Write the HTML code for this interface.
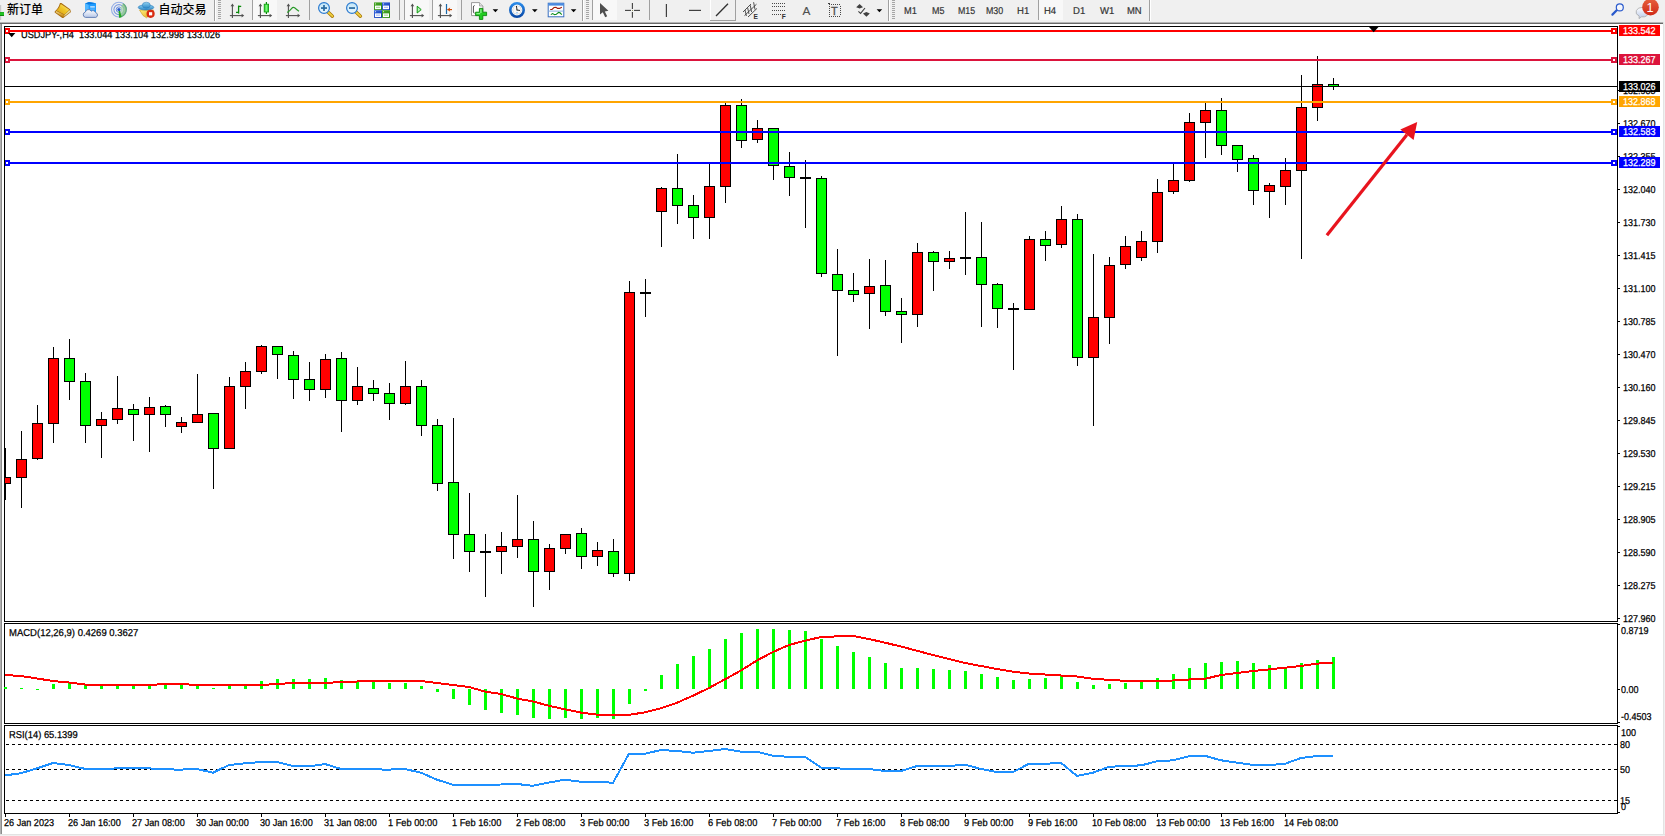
<!DOCTYPE html>
<html><head><meta charset="utf-8"><title>USDJPY-,H4</title>
<style>
html,body{margin:0;padding:0;}
body{width:1665px;height:836px;overflow:hidden;background:#fff;position:relative;font-family:"Liberation Sans","Noto Sans CJK SC",sans-serif;}
#tb{position:absolute;left:0;top:0;width:1665px;height:22px;background:#f0f0f0;}
#tbl1{position:absolute;left:0;top:22px;width:1664px;height:1px;background:#b4b4b4;}
#tbl2{position:absolute;left:0;top:23px;width:1664px;height:1px;background:#696969;}
#le{position:absolute;left:0;top:24px;width:2px;height:810px;background:linear-gradient(90deg,#b0b0b0 50%,#8c8c8c 50%);}
#re{position:absolute;left:1663px;top:22px;width:2px;height:814px;background:linear-gradient(90deg,#e3e3e3 50%,#f0f0f0 50%);}
#be{position:absolute;left:0;top:834px;width:1665px;height:2px;background:linear-gradient(180deg,#e3e3e3 50%,#f0f0f0 50%);}
#chart{position:absolute;left:0;top:0;}
.t{position:absolute;font-size:10px;line-height:10px;height:10px;color:#000;white-space:nowrap;text-rendering:geometricPrecision;transform:scaleX(0.9);transform-origin:0 0;-webkit-text-stroke:0.25px #000;}
.pl{left:1623px;}
.bx{position:absolute;left:1619px;width:41px;height:11px;color:#fff;}
.bx span{position:absolute;left:4px;top:2px;font-size:10px;line-height:10px;white-space:nowrap;text-rendering:geometricPrecision;transform:scaleX(0.9);transform-origin:0 0;-webkit-text-stroke:0.25px #fff;}
.tf{position:absolute;top:7px;font-size:10px;line-height:10px;color:#333;white-space:nowrap;text-rendering:geometricPrecision;transform:scaleX(0.88);transform-origin:0 0;-webkit-text-stroke:0.2px #333;}
.cj{position:absolute;top:2px;font-size:12px;line-height:14px;color:#000;font-weight:500;white-space:nowrap;font-family:"Noto Sans CJK SC","WenQuanYi Zen Hei",sans-serif;}
.sep{position:absolute;top:0;width:1px;height:21px;background:#a0a0a0;}
.sepw{position:absolute;top:0;width:1px;height:21px;background:#fff;}
.grip{position:absolute;top:1px;width:3px;height:19px;background:repeating-linear-gradient(180deg,#a8a8a8 0,#a8a8a8 1px,transparent 1px,transparent 2px);}
.pressed{position:absolute;top:0;height:20px;background:#f8f8f8;border-left:1px solid #a0a0a0;}
.ic{position:absolute;overflow:visible;}
</style></head><body>
<div id="tb"></div><div id="tbl1"></div><div id="tbl2"></div><div id="le"></div><div id="re"></div><div id="be"></div>

<svg id="tbsvg" style="position:absolute;left:0;top:0" width="1665" height="24" viewBox="0 0 1665 24">
<defs>
<linearGradient id="gold" x1="0" y1="0" x2="1" y2="1"><stop offset="0" stop-color="#fbe36a"/><stop offset="0.5" stop-color="#e9b91c"/><stop offset="1" stop-color="#b87a10"/></linearGradient>
<linearGradient id="grn" x1="0" y1="0" x2="1" y2="0"><stop offset="0" stop-color="#1fc01f"/><stop offset="0.5" stop-color="#7dff7d"/><stop offset="1" stop-color="#1fc01f"/></linearGradient>
<linearGradient id="lens" x1="0" y1="0" x2="0" y2="1"><stop offset="0" stop-color="#bfe4f7"/><stop offset="1" stop-color="#eef8fd"/></linearGradient>
<linearGradient id="badge" x1="0" y1="0" x2="0" y2="1"><stop offset="0" stop-color="#e7603c"/><stop offset="1" stop-color="#cf2a18"/></linearGradient>
<linearGradient id="sig" x1="0" y1="0" x2="1" y2="1"><stop offset="0" stop-color="#3a6ad8"/><stop offset="1" stop-color="#38b038"/></linearGradient>
<linearGradient id="hat" x1="0" y1="0" x2="0" y2="1"><stop offset="0" stop-color="#8fd0f0"/><stop offset="1" stop-color="#2a88c8"/></linearGradient>
<linearGradient id="face" x1="0" y1="0" x2="1" y2="1"><stop offset="0" stop-color="#fff07a"/><stop offset="1" stop-color="#e0a820"/></linearGradient>
<linearGradient id="clk" x1="0" y1="0" x2="0" y2="1"><stop offset="0" stop-color="#2a8ae8"/><stop offset="1" stop-color="#0a4aa8"/></linearGradient>
<linearGradient id="tg" x1="0" y1="0" x2="1" y2="1"><stop offset="0" stop-color="#4aa828"/><stop offset="1" stop-color="#2a8a10"/></linearGradient>
<linearGradient id="tbl" x1="0" y1="0" x2="1" y2="1"><stop offset="0" stop-color="#3a6ae0"/><stop offset="1" stop-color="#1038b0"/></linearGradient>
<linearGradient id="cloud" x1="0" y1="0" x2="0" y2="1"><stop offset="0" stop-color="#ffffff"/><stop offset="1" stop-color="#b8c8e8"/></linearGradient>
<linearGradient id="gold2" x1="1" y1="0" x2="0" y2="1"><stop offset="0" stop-color="#fff8a8"/><stop offset="0.45" stop-color="#f0c82a"/><stop offset="1" stop-color="#d89c10"/></linearGradient>
<linearGradient id="spine" x1="0" y1="0" x2="0.4" y2="1"><stop offset="0" stop-color="#f4dc8a"/><stop offset="1" stop-color="#c88c14"/></linearGradient>
<radialGradient id="sigg" cx="118.9" cy="9.6" r="8" gradientUnits="userSpaceOnUse"><stop offset="0" stop-color="#e8f4e8" stop-opacity="0.6"/><stop offset="0.7" stop-color="#8ac88a" stop-opacity="0.75"/><stop offset="1" stop-color="#3a9a4a" stop-opacity="0.85"/></radialGradient>
</defs>
<rect x="0" y="5" width="1.2" height="15" fill="#c8c8c8"/><rect x="0" y="12.2" width="4" height="3.8" fill="#22c422"/><rect x="0" y="15.2" width="4" height="0.8" fill="#0a7a0a"/><rect x="0" y="12.2" width="4" height="0.6" fill="#0a9a0a"/>
<path d="M60,3 L61.4,3 L70.1,9.2 L71,11.9 L63.3,17.9 L62.3,17.9 L54.7,12.5 L54.7,11.4 Q58.4,8.6 60,3 z" fill="#a86c10"/>
<polygon points="69.5,10 70.4,11.8 63.4,17.1 64.7,14.8" fill="#e4dca0"/>
<path d="M60.8,3.9 L69.3,9.7 L64.6,14.6 L56.5,10.6 Q59.5,8 60.8,3.9 z" fill="url(#gold2)"/>
<polygon points="56.2,10.9 64.5,15 63,17.1 55.5,12.2" fill="url(#spine)"/>
<polygon points="85.2,3.6 89,2 96,3.2 96,12 85.2,12" fill="#1e9cff"/><polygon points="85.2,3.6 88.6,4.6 88.6,12 85.2,12" fill="#52b8ff"/><polygon points="85.2,3.6 89,2 96,3.2 88.6,4.6" fill="#0a7ae0"/><rect x="90.2" y="6.3" width="4.6" height="1.2" fill="#e8f4ff"/><rect x="90.2" y="8.6" width="4.6" height="0.9" fill="#7cc4ff"/>
<path d="M85.6,17.4 a2.7,2.7 0 0 1 -0.3,-5.3 a3.2,3.2 0 0 1 5.9,-0.9 a2.8,2.8 0 0 1 4.4,1.4 a2.5,2.5 0 0 1 0.2,4.8 z" fill="url(#cloud)" stroke="#5a78b0" stroke-width="0.9"/>
<g fill="none" stroke="#4a78dc"><circle cx="118.9" cy="9.6" r="7.4" stroke-width="1.1" opacity="0.55"/><circle cx="118.9" cy="9.6" r="5" stroke-width="1.1" opacity="0.7"/><circle cx="118.9" cy="9.6" r="2.7" stroke-width="1" opacity="0.8"/></g>
<path d="M118.9,9.6 L123.4,3.2 A7.8,7.8 0 0 1 119.3,17.4 z" fill="url(#sigg)"/>
<polygon points="118.5,9.6 119.1,17.8 121.6,17.3 119.7,9.6" fill="#22a822"/><circle cx="118.9" cy="9.5" r="1.6" fill="#2a5ad0"/>
<polygon points="139.5,10 153.5,10 151,14 146.5,17.8 143,15.5" fill="url(#face)" stroke="#c89818" stroke-width="0.6"/>
<ellipse cx="146" cy="7.4" rx="7.8" ry="2.6" fill="url(#hat)" stroke="#2a78b8" stroke-width="0.6"/><ellipse cx="146.3" cy="5.2" rx="4" ry="3" fill="url(#hat)" stroke="#2a78b8" stroke-width="0.5"/>
<circle cx="150.6" cy="13.8" r="4.1" fill="#d82a10"/><rect x="149" y="12.2" width="3.2" height="3.2" fill="#fff"/>
<rect x="214" y="0" width="1" height="21" fill="#a0a0a0" shape-rendering="crispEdges"/>
<rect x="215" y="0" width="1" height="21" fill="#fff" shape-rendering="crispEdges"/>
<rect x="218" y="0" width="3" height="1" fill="#a6a6a6" shape-rendering="crispEdges"/>
<rect x="218" y="2" width="3" height="1" fill="#a6a6a6" shape-rendering="crispEdges"/>
<rect x="218" y="4" width="3" height="1" fill="#a6a6a6" shape-rendering="crispEdges"/>
<rect x="218" y="6" width="3" height="1" fill="#a6a6a6" shape-rendering="crispEdges"/>
<rect x="218" y="8" width="3" height="1" fill="#a6a6a6" shape-rendering="crispEdges"/>
<rect x="218" y="10" width="3" height="1" fill="#a6a6a6" shape-rendering="crispEdges"/>
<rect x="218" y="12" width="3" height="1" fill="#a6a6a6" shape-rendering="crispEdges"/>
<rect x="218" y="14" width="3" height="1" fill="#a6a6a6" shape-rendering="crispEdges"/>
<rect x="218" y="16" width="3" height="1" fill="#a6a6a6" shape-rendering="crispEdges"/>
<rect x="218" y="18" width="3" height="1" fill="#a6a6a6" shape-rendering="crispEdges"/>
<g stroke="#505050" stroke-width="1.1" fill="#505050"><line x1="232.4" y1="5" x2="232.4" y2="18"/><line x1="229.9" y1="15.6" x2="242.4" y2="15.6"/><polygon points="232.4,3.6 230.6,6.2 234.20000000000002,6.2" stroke="none"/><polygon points="244.20000000000002,15.6 241.6,13.8 241.6,17.4" stroke="none"/></g>
<g stroke="#0a8a0a" stroke-width="1.3" fill="none"><line x1="238.6" y1="5.6" x2="238.6" y2="13.6"/><line x1="236" y1="12.4" x2="238.6" y2="12.4"/><line x1="238.6" y1="6.4" x2="241.2" y2="6.4"/></g>
<rect x="252" y="0" width="1" height="20" fill="#a0a0a0" shape-rendering="crispEdges"/>
<rect x="253" y="0" width="24" height="20" fill="#f8f8f8" shape-rendering="crispEdges"/>
<g stroke="#505050" stroke-width="1.1" fill="#505050"><line x1="260.4" y1="5" x2="260.4" y2="18"/><line x1="257.9" y1="15.6" x2="270.4" y2="15.6"/><polygon points="260.4,3.6 258.59999999999997,6.2 262.2,6.2" stroke="none"/><polygon points="272.2,15.6 269.59999999999997,13.8 269.59999999999997,17.4" stroke="none"/></g>
<line x1="266.4" y1="2" x2="266.4" y2="14" stroke="#0a8a0a" stroke-width="1.2"/><rect x="264.2" y="4.2" width="4.4" height="7.8" fill="url(#grn)" stroke="#0a9a0a" stroke-width="0.8"/>
<g stroke="#505050" stroke-width="1.1" fill="#505050"><line x1="288.4" y1="5" x2="288.4" y2="18"/><line x1="285.9" y1="15.6" x2="298.4" y2="15.6"/><polygon points="288.4,3.6 286.59999999999997,6.2 290.2,6.2" stroke="none"/><polygon points="300.2,15.6 297.59999999999997,13.8 297.59999999999997,17.4" stroke="none"/></g>
<path d="M287.2,12.6 Q290,10.5 291.5,8.6 Q293,6.8 294.6,7.8 Q296.5,9.4 299,11.2" fill="none" stroke="#2a9a2a" stroke-width="1.2"/>
<rect x="309" y="0" width="1" height="20" fill="#a0a0a0" shape-rendering="crispEdges"/>
<line x1="328" y1="12" x2="332.4" y2="16.2" stroke="#a87808" stroke-width="3.4" stroke-linecap="round"/><line x1="328" y1="12" x2="332.4" y2="16.2" stroke="#f0d040" stroke-width="1.8" stroke-linecap="round"/>
<circle cx="324" cy="8" r="5.4" fill="url(#lens)" stroke="#2a7ad0" stroke-width="1.2"/>
<rect x="321" y="7.2" width="6" height="1.7" fill="#2a6aa0"/>
<rect x="323.15" y="5" width="1.7" height="6" fill="#2a6aa0"/>
<line x1="356" y1="12" x2="360.4" y2="16.2" stroke="#a87808" stroke-width="3.4" stroke-linecap="round"/><line x1="356" y1="12" x2="360.4" y2="16.2" stroke="#f0d040" stroke-width="1.8" stroke-linecap="round"/>
<circle cx="352" cy="8" r="5.4" fill="url(#lens)" stroke="#2a7ad0" stroke-width="1.2"/>
<rect x="349" y="7.2" width="6" height="1.7" fill="#2a6aa0"/>
<rect x="374" y="2.4" width="8" height="7.7" fill="url(#tg)"/><rect x="375" y="5.6" width="6" height="3.6" fill="#fff"/><rect x="376" y="6.800000000000001" width="4" height="1" fill="#9ad08a"/><rect x="375" y="3.4" width="1" height="1" fill="#fff" opacity="0.8"/>
<rect x="382" y="2.4" width="8" height="7.7" fill="url(#tbl)"/><rect x="383" y="5.6" width="6" height="3.6" fill="#fff"/><rect x="384" y="6.800000000000001" width="4" height="1" fill="#9ab0f0"/><rect x="383" y="3.4" width="1" height="1" fill="#fff" opacity="0.8"/>
<rect x="374" y="10.2" width="8" height="7.7" fill="url(#tbl)"/><rect x="375" y="13.399999999999999" width="6" height="3.6" fill="#fff"/><rect x="376" y="14.6" width="4" height="1" fill="#9ab0f0"/><rect x="375" y="11.2" width="1" height="1" fill="#fff" opacity="0.8"/>
<rect x="382" y="10.2" width="8" height="7.7" fill="url(#tg)"/><rect x="383" y="13.399999999999999" width="6" height="3.6" fill="#fff"/><rect x="384" y="14.6" width="4" height="1" fill="#9ad08a"/><rect x="383" y="11.2" width="1" height="1" fill="#fff" opacity="0.8"/>
<rect x="399" y="0" width="1" height="20" fill="#a0a0a0" shape-rendering="crispEdges"/>
<rect x="404" y="0" width="1" height="20" fill="#a0a0a0" shape-rendering="crispEdges"/>
<rect x="405" y="0" width="24" height="20" fill="#f8f8f8" shape-rendering="crispEdges"/>
<g stroke="#505050" stroke-width="1.1" fill="#505050"><line x1="412.4" y1="5" x2="412.4" y2="18"/><line x1="409.9" y1="15.6" x2="422.4" y2="15.6"/><polygon points="412.4,3.6 410.59999999999997,6.2 414.2,6.2" stroke="none"/><polygon points="424.2,15.6 421.59999999999997,13.8 421.59999999999997,17.4" stroke="none"/></g>
<polygon points="417.2,6.2 421.2,9.6 417.2,13" fill="#b8f0b8" stroke="#0a9a0a" stroke-width="1"/>
<rect x="432" y="0" width="1" height="20" fill="#a0a0a0" shape-rendering="crispEdges"/>
<rect x="433" y="0" width="24" height="20" fill="#f8f8f8" shape-rendering="crispEdges"/>
<g stroke="#505050" stroke-width="1.1" fill="#505050"><line x1="440.4" y1="5" x2="440.4" y2="18"/><line x1="437.9" y1="15.6" x2="450.4" y2="15.6"/><polygon points="440.4,3.6 438.59999999999997,6.2 442.2,6.2" stroke="none"/><polygon points="452.2,15.6 449.59999999999997,13.8 449.59999999999997,17.4" stroke="none"/></g>
<line x1="446.5" y1="4" x2="446.5" y2="14" stroke="#1a6aaa" stroke-width="1.2"/><line x1="447.5" y1="9.6" x2="452" y2="9.6" stroke="#d04a00" stroke-width="1.2"/><polygon points="447.2,9.6 450.2,7.4 449.6,9.6 450.2,11.8" fill="#d04a00"/>
<rect x="461" y="0" width="1" height="20" fill="#a0a0a0" shape-rendering="crispEdges"/>
<path d="M471.5,2.6 h8 l3.4,3.4 v9.6 h-11.4 z" fill="#fff" stroke="#909090" stroke-width="0.9"/><path d="M479.5,2.6 v3.4 h3.4" fill="#e0e0e0" stroke="#909090" stroke-width="0.7"/><path d="M474.6,5.5 q-1.2,0.2 -1.2,1.5 v5 q0,1 1.2,1.2" fill="none" stroke="#404040" stroke-width="0.9"/>
<path d="M479.4,8.4 h3.4 v3.8 h3.8 v3.4 h-3.8 v3.8 h-3.4 v-3.8 h-3.8 v-3.4 h3.8 z" fill="#22cc22" stroke="#0a8a0a" stroke-width="0.9"/><path d="M480.2,9.2 h1.4 v3.8 h-1.4 z M476.4,13 h3.8 v1.2 h-3.8z" fill="#8af08a"/>
<polygon points="492.6,9.2 498.20000000000005,9.2 495.40000000000003,12.2" fill="#000"/>
<circle cx="517" cy="10" r="6.7" fill="#f8f8f8" stroke="url(#clk)" stroke-width="2.6"/><g stroke="#9a9a9a" stroke-width="0.6"><line x1="517.00" y1="5.40" x2="517.00" y2="6.30"/><line x1="519.30" y1="6.02" x2="518.85" y2="6.80"/><line x1="520.98" y1="7.70" x2="520.20" y2="8.15"/><line x1="521.60" y1="10.00" x2="520.70" y2="10.00"/><line x1="520.98" y1="12.30" x2="520.20" y2="11.85"/><line x1="519.30" y1="13.98" x2="518.85" y2="13.20"/><line x1="517.00" y1="14.60" x2="517.00" y2="13.70"/><line x1="514.70" y1="13.98" x2="515.15" y2="13.20"/><line x1="513.02" y1="12.30" x2="513.80" y2="11.85"/><line x1="512.40" y1="10.00" x2="513.30" y2="10.00"/><line x1="513.02" y1="7.70" x2="513.80" y2="8.15"/><line x1="514.70" y1="6.02" x2="515.15" y2="6.80"/></g><g stroke="#282828" stroke-width="1" stroke-linecap="round"><line x1="517" y1="10" x2="516.5" y2="6.4"/><line x1="517" y1="10" x2="519.6" y2="10.4"/></g><circle cx="517" cy="12.8" r="0.7" fill="#6ab0f0"/>
<polygon points="532,9.2 537.6,9.2 534.8,12.2" fill="#000"/>
<rect x="548.2" y="3.2" width="15.6" height="13.6" fill="#fff" stroke="#3a70c0" stroke-width="1"/><rect x="548.2" y="3.2" width="15.6" height="2.4" fill="#4a8ae0"/><rect x="548.7" y="10.6" width="14.6" height="1" fill="#8ab0e0"/>
<polyline points="550.2,9.4 552,9.4 554,7.6 556,7.4 557.5,8.4 559.5,8.4 561.8,7.2" fill="none" stroke="#a01808" stroke-width="1.05"/><polyline points="550.8,14.6 552.6,13.6 554.6,14.6 556.4,14.2 558.6,12.4 560,12.8 561.8,14.6" fill="none" stroke="#0a8a1a" stroke-width="1.05"/>
<polygon points="570.8,9.2 576.4,9.2 573.5999999999999,12.2" fill="#000"/>
<rect x="582" y="0" width="1" height="21" fill="#a0a0a0" shape-rendering="crispEdges"/>
<rect x="583" y="0" width="1" height="21" fill="#fff" shape-rendering="crispEdges"/>
<rect x="586" y="0" width="3" height="1" fill="#a6a6a6" shape-rendering="crispEdges"/>
<rect x="586" y="2" width="3" height="1" fill="#a6a6a6" shape-rendering="crispEdges"/>
<rect x="586" y="4" width="3" height="1" fill="#a6a6a6" shape-rendering="crispEdges"/>
<rect x="586" y="6" width="3" height="1" fill="#a6a6a6" shape-rendering="crispEdges"/>
<rect x="586" y="8" width="3" height="1" fill="#a6a6a6" shape-rendering="crispEdges"/>
<rect x="586" y="10" width="3" height="1" fill="#a6a6a6" shape-rendering="crispEdges"/>
<rect x="586" y="12" width="3" height="1" fill="#a6a6a6" shape-rendering="crispEdges"/>
<rect x="586" y="14" width="3" height="1" fill="#a6a6a6" shape-rendering="crispEdges"/>
<rect x="586" y="16" width="3" height="1" fill="#a6a6a6" shape-rendering="crispEdges"/>
<rect x="586" y="18" width="3" height="1" fill="#a6a6a6" shape-rendering="crispEdges"/>
<rect x="592" y="0" width="1" height="20" fill="#a0a0a0" shape-rendering="crispEdges"/>
<rect x="593" y="0" width="24" height="20" fill="#f8f8f8" shape-rendering="crispEdges"/>
<polygon points="600,3 600,14.6 602.8,12.2 605.2,17.2 607.2,16.2 604.8,11.4 608.4,10.8" fill="#505050"/>
<g stroke="#404040" stroke-width="1.1"><line x1="625" y1="10.4" x2="631" y2="10.4"/><line x1="634" y1="10.4" x2="640" y2="10.4"/><line x1="632.4" y1="3" x2="632.4" y2="9"/><line x1="632.4" y1="12" x2="632.4" y2="17.8"/></g><rect x="632" y="10" width="0.9" height="0.9" fill="#808040"/>
<rect x="649" y="0" width="1" height="20" fill="#a0a0a0" shape-rendering="crispEdges"/>
<line x1="666.4" y1="4" x2="666.4" y2="17" stroke="#404040" stroke-width="1.2"/><line x1="689" y1="10.4" x2="701" y2="10.4" stroke="#404040" stroke-width="1.2"/>
<rect x="710" y="0" width="1" height="20" fill="#fff" shape-rendering="crispEdges"/><rect x="735" y="0" width="1" height="21" fill="#a0a0a0" shape-rendering="crispEdges"/><rect x="710" y="20" width="26" height="1" fill="#a0a0a0" shape-rendering="crispEdges"/>
<line x1="716" y1="16" x2="728" y2="3.8" stroke="#303030" stroke-width="1.3"/>
<g stroke="#404040" stroke-width="0.9"><line x1="743" y1="12" x2="751" y2="4"/><line x1="744.5" y1="15.6" x2="756.5" y2="4.2"/><line x1="748" y1="17" x2="757" y2="8.4"/><line x1="745" y1="10" x2="746.4" y2="16"/><line x1="747.6" y1="7.6" x2="749" y2="14"/><line x1="750.2" y1="5.2" x2="751.6" y2="12"/><line x1="753.6" y1="2.2" x2="755" y2="9.6"/></g>
<text x="753.4" y="18.9" font-family="Liberation Sans,sans-serif" font-size="6.6" font-weight="bold" fill="#303030">E</text>
<rect x="772" y="3" width="1" height="1" fill="#484848" shape-rendering="crispEdges"/>
<rect x="774" y="3" width="1" height="1" fill="#484848" shape-rendering="crispEdges"/>
<rect x="776" y="3" width="1" height="1" fill="#484848" shape-rendering="crispEdges"/>
<rect x="778" y="3" width="1" height="1" fill="#484848" shape-rendering="crispEdges"/>
<rect x="780" y="3" width="1" height="1" fill="#484848" shape-rendering="crispEdges"/>
<rect x="782" y="3" width="1" height="1" fill="#484848" shape-rendering="crispEdges"/>
<rect x="784" y="3" width="1" height="1" fill="#484848" shape-rendering="crispEdges"/>
<rect x="772" y="6" width="1" height="1" fill="#484848" shape-rendering="crispEdges"/>
<rect x="774" y="6" width="1" height="1" fill="#484848" shape-rendering="crispEdges"/>
<rect x="776" y="6" width="1" height="1" fill="#484848" shape-rendering="crispEdges"/>
<rect x="778" y="6" width="1" height="1" fill="#484848" shape-rendering="crispEdges"/>
<rect x="780" y="6" width="1" height="1" fill="#484848" shape-rendering="crispEdges"/>
<rect x="782" y="6" width="1" height="1" fill="#484848" shape-rendering="crispEdges"/>
<rect x="784" y="6" width="1" height="1" fill="#484848" shape-rendering="crispEdges"/>
<rect x="772" y="10" width="1" height="1" fill="#484848" shape-rendering="crispEdges"/>
<rect x="774" y="10" width="1" height="1" fill="#484848" shape-rendering="crispEdges"/>
<rect x="776" y="10" width="1" height="1" fill="#484848" shape-rendering="crispEdges"/>
<rect x="778" y="10" width="1" height="1" fill="#484848" shape-rendering="crispEdges"/>
<rect x="780" y="10" width="1" height="1" fill="#484848" shape-rendering="crispEdges"/>
<rect x="782" y="10" width="1" height="1" fill="#484848" shape-rendering="crispEdges"/>
<rect x="784" y="10" width="1" height="1" fill="#484848" shape-rendering="crispEdges"/>
<rect x="772" y="14" width="1" height="1" fill="#484848" shape-rendering="crispEdges"/>
<rect x="774" y="14" width="1" height="1" fill="#484848" shape-rendering="crispEdges"/>
<rect x="776" y="14" width="1" height="1" fill="#484848" shape-rendering="crispEdges"/>
<rect x="778" y="14" width="1" height="1" fill="#484848" shape-rendering="crispEdges"/>
<rect x="780" y="14" width="1" height="1" fill="#484848" shape-rendering="crispEdges"/>
<text x="781.8" y="18.9" font-family="Liberation Sans,sans-serif" font-size="6.6" font-weight="bold" fill="#303030">F</text>
 <text x="802.5" y="14.8" font-family="Liberation Sans,sans-serif" font-size="11.8" fill="#505050" stroke="#505050" stroke-width="0.15">A</text>
<rect x="829" y="4" width="1" height="1" fill="#484848" shape-rendering="crispEdges"/><rect x="829" y="16" width="1" height="1" fill="#484848" shape-rendering="crispEdges"/>
<rect x="831" y="4" width="1" height="1" fill="#484848" shape-rendering="crispEdges"/><rect x="831" y="16" width="1" height="1" fill="#484848" shape-rendering="crispEdges"/>
<rect x="833" y="4" width="1" height="1" fill="#484848" shape-rendering="crispEdges"/><rect x="833" y="16" width="1" height="1" fill="#484848" shape-rendering="crispEdges"/>
<rect x="835" y="4" width="1" height="1" fill="#484848" shape-rendering="crispEdges"/><rect x="835" y="16" width="1" height="1" fill="#484848" shape-rendering="crispEdges"/>
<rect x="837" y="4" width="1" height="1" fill="#484848" shape-rendering="crispEdges"/><rect x="837" y="16" width="1" height="1" fill="#484848" shape-rendering="crispEdges"/>
<rect x="839" y="4" width="1" height="1" fill="#484848" shape-rendering="crispEdges"/><rect x="839" y="16" width="1" height="1" fill="#484848" shape-rendering="crispEdges"/>
<rect x="829" y="6" width="1" height="1" fill="#484848" shape-rendering="crispEdges"/><rect x="840" y="6" width="1" height="1" fill="#484848" shape-rendering="crispEdges"/>
<rect x="829" y="8" width="1" height="1" fill="#484848" shape-rendering="crispEdges"/><rect x="840" y="8" width="1" height="1" fill="#484848" shape-rendering="crispEdges"/>
<rect x="829" y="10" width="1" height="1" fill="#484848" shape-rendering="crispEdges"/><rect x="840" y="10" width="1" height="1" fill="#484848" shape-rendering="crispEdges"/>
<rect x="829" y="12" width="1" height="1" fill="#484848" shape-rendering="crispEdges"/><rect x="840" y="12" width="1" height="1" fill="#484848" shape-rendering="crispEdges"/>
<rect x="829" y="14" width="1" height="1" fill="#484848" shape-rendering="crispEdges"/><rect x="840" y="14" width="1" height="1" fill="#484848" shape-rendering="crispEdges"/>
<rect x="828" y="3" width="2" height="1" fill="#404040" shape-rendering="crispEdges"/>
<text x="831" y="14.8" font-family="Liberation Sans,sans-serif" font-size="11" fill="#505050" stroke="#505050" stroke-width="0.3">T</text>
<polygon points="859.6,4 863,7.2 859.6,8.6 856.2,7.2" fill="#404040"/><polygon points="866.4,16.8 869.8,13.4 866.4,12 863,13.4" fill="#404040"/><polyline points="858.4,11.4 860.6,13.4 865,8" fill="none" stroke="#404040" stroke-width="1.1"/>
<polygon points="876.6,9.2 882.2,9.2 879.4,12.2" fill="#000"/>
<rect x="888" y="0" width="1" height="21" fill="#a0a0a0" shape-rendering="crispEdges"/>
<rect x="889" y="0" width="1" height="21" fill="#fff" shape-rendering="crispEdges"/>
<rect x="892" y="0" width="3" height="1" fill="#a6a6a6" shape-rendering="crispEdges"/>
<rect x="892" y="2" width="3" height="1" fill="#a6a6a6" shape-rendering="crispEdges"/>
<rect x="892" y="4" width="3" height="1" fill="#a6a6a6" shape-rendering="crispEdges"/>
<rect x="892" y="6" width="3" height="1" fill="#a6a6a6" shape-rendering="crispEdges"/>
<rect x="892" y="8" width="3" height="1" fill="#a6a6a6" shape-rendering="crispEdges"/>
<rect x="892" y="10" width="3" height="1" fill="#a6a6a6" shape-rendering="crispEdges"/>
<rect x="892" y="12" width="3" height="1" fill="#a6a6a6" shape-rendering="crispEdges"/>
<rect x="892" y="14" width="3" height="1" fill="#a6a6a6" shape-rendering="crispEdges"/>
<rect x="892" y="16" width="3" height="1" fill="#a6a6a6" shape-rendering="crispEdges"/>
<rect x="892" y="18" width="3" height="1" fill="#a6a6a6" shape-rendering="crispEdges"/>
<rect x="1038" y="0" width="1" height="20" fill="#a0a0a0" shape-rendering="crispEdges"/>
<rect x="1039" y="0" width="24" height="20" fill="#f8f8f8" shape-rendering="crispEdges"/>
<rect x="1149" y="0" width="1" height="21" fill="#a0a0a0" shape-rendering="crispEdges"/>
<rect x="1150" y="0" width="1" height="21" fill="#fff" shape-rendering="crispEdges"/>
<line x1="1617.2" y1="9.8" x2="1612.4" y2="14.6" stroke="#2a5acc" stroke-width="2.2" stroke-linecap="round"/><circle cx="1619.8" cy="7.4" r="3.5" fill="#f4f6fc" stroke="#2a5acc" stroke-width="1.2"/>
<path d="M1642.6,7.4 a6.2,4.6 0 0 0 -3.4,8.6 l-0.2,2.6 l2.6,-1.8 h3 a6,4.6 0 0 0 3.4,-6 z" fill="url(#cloud)" stroke="#a8a8a8" stroke-width="0.8"/>
<circle cx="1650.5" cy="7.2" r="8.3" fill="url(#badge)"/>
<text x="1646.4" y="12" font-family="Liberation Sans,sans-serif" font-size="12.6" fill="#fff">1</text>
</svg>
<div class="cj" style="left:7px">新订单</div><div class="cj" style="left:158.6px">自动交易</div>
<div class="tf" style="left:903.6px;transform:scaleX(0.926)">M1</div>
<div class="tf" style="left:931.6px;transform:scaleX(0.895)">M5</div>
<div class="tf" style="left:957.8px;transform:scaleX(0.88)">M15</div>
<div class="tf" style="left:985.5px;transform:scaleX(0.885)">M30</div>
<div class="tf" style="left:1017px;transform:scaleX(0.955)">H1</div>
<div class="tf" style="left:1044px;transform:scaleX(0.95)">H4</div>
<div class="tf" style="left:1073.1px;transform:scaleX(0.955)">D1</div>
<div class="tf" style="left:1100.4px;transform:scaleX(0.955)">W1</div>
<div class="tf" style="left:1127.1px;transform:scaleX(0.945)">MN</div>
<div class="t" style="left:20.5px;top:31px;transform:scaleX(0.922)">USDJPY-,H4&nbsp; 133.044 133.104 132.998 133.026</div>
<svg id="chart" width="1665" height="836" viewBox="0 0 1665 836" shape-rendering="crispEdges">
<defs><clipPath id="cp"><rect x="5" y="27" width="1612" height="594"/></clipPath></defs><g clip-path="url(#cp)">
<rect x="5" y="448" width="1" height="52" fill="#000"/>
<rect x="0" y="477" width="11" height="7" fill="#000"/>
<rect x="1" y="478" width="9" height="5" fill="#f00"/>
<rect x="21" y="431" width="1" height="77" fill="#000"/>
<rect x="16" y="459" width="11" height="19" fill="#000"/>
<rect x="17" y="460" width="9" height="17" fill="#f00"/>
<rect x="37" y="405" width="1" height="55" fill="#000"/>
<rect x="32" y="423" width="11" height="36" fill="#000"/>
<rect x="33" y="424" width="9" height="34" fill="#f00"/>
<rect x="53" y="347" width="1" height="96" fill="#000"/>
<rect x="48" y="358" width="11" height="66" fill="#000"/>
<rect x="49" y="359" width="9" height="64" fill="#f00"/>
<rect x="69" y="339" width="1" height="61" fill="#000"/>
<rect x="64" y="358" width="11" height="24" fill="#000"/>
<rect x="65" y="359" width="9" height="22" fill="#0f0"/>
<rect x="85" y="373" width="1" height="70" fill="#000"/>
<rect x="80" y="381" width="11" height="45" fill="#000"/>
<rect x="81" y="382" width="9" height="43" fill="#0f0"/>
<rect x="101" y="412" width="1" height="46" fill="#000"/>
<rect x="96" y="419" width="11" height="7" fill="#000"/>
<rect x="97" y="420" width="9" height="5" fill="#f00"/>
<rect x="117" y="376" width="1" height="48" fill="#000"/>
<rect x="112" y="408" width="11" height="12" fill="#000"/>
<rect x="113" y="409" width="9" height="10" fill="#f00"/>
<rect x="133" y="404" width="1" height="37" fill="#000"/>
<rect x="128" y="409" width="11" height="6" fill="#000"/>
<rect x="129" y="410" width="9" height="4" fill="#0f0"/>
<rect x="149" y="397" width="1" height="55" fill="#000"/>
<rect x="144" y="407" width="11" height="8" fill="#000"/>
<rect x="145" y="408" width="9" height="6" fill="#f00"/>
<rect x="165" y="405" width="1" height="22" fill="#000"/>
<rect x="160" y="406" width="11" height="9" fill="#000"/>
<rect x="161" y="407" width="9" height="7" fill="#0f0"/>
<rect x="181" y="417" width="1" height="16" fill="#000"/>
<rect x="176" y="422" width="11" height="5" fill="#000"/>
<rect x="177" y="423" width="9" height="3" fill="#f00"/>
<rect x="197" y="374" width="1" height="49" fill="#000"/>
<rect x="192" y="414" width="11" height="9" fill="#000"/>
<rect x="193" y="415" width="9" height="7" fill="#f00"/>
<rect x="213" y="413" width="1" height="76" fill="#000"/>
<rect x="208" y="413" width="11" height="36" fill="#000"/>
<rect x="209" y="414" width="9" height="34" fill="#0f0"/>
<rect x="229" y="377" width="1" height="72" fill="#000"/>
<rect x="224" y="386" width="11" height="63" fill="#000"/>
<rect x="225" y="387" width="9" height="61" fill="#f00"/>
<rect x="245" y="362" width="1" height="47" fill="#000"/>
<rect x="240" y="371" width="11" height="16" fill="#000"/>
<rect x="241" y="372" width="9" height="14" fill="#f00"/>
<rect x="261" y="345" width="1" height="29" fill="#000"/>
<rect x="256" y="346" width="11" height="26" fill="#000"/>
<rect x="257" y="347" width="9" height="24" fill="#f00"/>
<rect x="277" y="346" width="1" height="33" fill="#000"/>
<rect x="272" y="346" width="11" height="9" fill="#000"/>
<rect x="273" y="347" width="9" height="7" fill="#0f0"/>
<rect x="293" y="351" width="1" height="48" fill="#000"/>
<rect x="288" y="355" width="11" height="25" fill="#000"/>
<rect x="289" y="356" width="9" height="23" fill="#0f0"/>
<rect x="309" y="362" width="1" height="39" fill="#000"/>
<rect x="304" y="379" width="11" height="11" fill="#000"/>
<rect x="305" y="380" width="9" height="9" fill="#0f0"/>
<rect x="325" y="354" width="1" height="44" fill="#000"/>
<rect x="320" y="359" width="11" height="31" fill="#000"/>
<rect x="321" y="360" width="9" height="29" fill="#f00"/>
<rect x="341" y="352" width="1" height="80" fill="#000"/>
<rect x="336" y="358" width="11" height="43" fill="#000"/>
<rect x="337" y="359" width="9" height="41" fill="#0f0"/>
<rect x="357" y="367" width="1" height="38" fill="#000"/>
<rect x="352" y="386" width="11" height="15" fill="#000"/>
<rect x="353" y="387" width="9" height="13" fill="#f00"/>
<rect x="373" y="380" width="1" height="21" fill="#000"/>
<rect x="368" y="388" width="11" height="6" fill="#000"/>
<rect x="369" y="389" width="9" height="4" fill="#0f0"/>
<rect x="389" y="383" width="1" height="37" fill="#000"/>
<rect x="384" y="393" width="11" height="11" fill="#000"/>
<rect x="385" y="394" width="9" height="9" fill="#0f0"/>
<rect x="405" y="361" width="1" height="44" fill="#000"/>
<rect x="400" y="386" width="11" height="18" fill="#000"/>
<rect x="401" y="387" width="9" height="16" fill="#f00"/>
<rect x="421" y="380" width="1" height="56" fill="#000"/>
<rect x="416" y="386" width="11" height="40" fill="#000"/>
<rect x="417" y="387" width="9" height="38" fill="#0f0"/>
<rect x="437" y="419" width="1" height="72" fill="#000"/>
<rect x="432" y="425" width="11" height="59" fill="#000"/>
<rect x="433" y="426" width="9" height="57" fill="#0f0"/>
<rect x="453" y="418" width="1" height="141" fill="#000"/>
<rect x="448" y="482" width="11" height="53" fill="#000"/>
<rect x="449" y="483" width="9" height="51" fill="#0f0"/>
<rect x="469" y="493" width="1" height="79" fill="#000"/>
<rect x="464" y="534" width="11" height="18" fill="#000"/>
<rect x="465" y="535" width="9" height="16" fill="#0f0"/>
<rect x="485" y="534" width="1" height="63" fill="#000"/>
<rect x="480" y="551" width="11" height="2" fill="#000"/>
<rect x="501" y="532" width="1" height="42" fill="#000"/>
<rect x="496" y="546" width="11" height="6" fill="#000"/>
<rect x="497" y="547" width="9" height="4" fill="#f00"/>
<rect x="517" y="495" width="1" height="63" fill="#000"/>
<rect x="512" y="539" width="11" height="8" fill="#000"/>
<rect x="513" y="540" width="9" height="6" fill="#f00"/>
<rect x="533" y="521" width="1" height="86" fill="#000"/>
<rect x="528" y="539" width="11" height="33" fill="#000"/>
<rect x="529" y="540" width="9" height="31" fill="#0f0"/>
<rect x="549" y="544" width="1" height="46" fill="#000"/>
<rect x="544" y="548" width="11" height="24" fill="#000"/>
<rect x="545" y="549" width="9" height="22" fill="#f00"/>
<rect x="565" y="534" width="1" height="20" fill="#000"/>
<rect x="560" y="534" width="11" height="15" fill="#000"/>
<rect x="561" y="535" width="9" height="13" fill="#f00"/>
<rect x="581" y="528" width="1" height="41" fill="#000"/>
<rect x="576" y="533" width="11" height="24" fill="#000"/>
<rect x="577" y="534" width="9" height="22" fill="#0f0"/>
<rect x="597" y="542" width="1" height="24" fill="#000"/>
<rect x="592" y="550" width="11" height="7" fill="#000"/>
<rect x="593" y="551" width="9" height="5" fill="#f00"/>
<rect x="613" y="539" width="1" height="38" fill="#000"/>
<rect x="608" y="551" width="11" height="23" fill="#000"/>
<rect x="609" y="552" width="9" height="21" fill="#0f0"/>
<rect x="629" y="281" width="1" height="300" fill="#000"/>
<rect x="624" y="292" width="11" height="282" fill="#000"/>
<rect x="625" y="293" width="9" height="280" fill="#f00"/>
<rect x="645" y="279" width="1" height="38" fill="#000"/>
<rect x="640" y="292" width="11" height="2" fill="#000"/>
<rect x="661" y="187" width="1" height="60" fill="#000"/>
<rect x="656" y="188" width="11" height="24" fill="#000"/>
<rect x="657" y="189" width="9" height="22" fill="#f00"/>
<rect x="677" y="154" width="1" height="70" fill="#000"/>
<rect x="672" y="188" width="11" height="18" fill="#000"/>
<rect x="673" y="189" width="9" height="16" fill="#0f0"/>
<rect x="693" y="195" width="1" height="44" fill="#000"/>
<rect x="688" y="205" width="11" height="13" fill="#000"/>
<rect x="689" y="206" width="9" height="11" fill="#0f0"/>
<rect x="709" y="164" width="1" height="75" fill="#000"/>
<rect x="704" y="186" width="11" height="32" fill="#000"/>
<rect x="705" y="187" width="9" height="30" fill="#f00"/>
<rect x="725" y="103" width="1" height="100" fill="#000"/>
<rect x="720" y="105" width="11" height="82" fill="#000"/>
<rect x="721" y="106" width="9" height="80" fill="#f00"/>
<rect x="741" y="99" width="1" height="49" fill="#000"/>
<rect x="736" y="105" width="11" height="36" fill="#000"/>
<rect x="737" y="106" width="9" height="34" fill="#0f0"/>
<rect x="757" y="120" width="1" height="23" fill="#000"/>
<rect x="752" y="128" width="11" height="12" fill="#000"/>
<rect x="753" y="129" width="9" height="10" fill="#f00"/>
<rect x="773" y="128" width="1" height="52" fill="#000"/>
<rect x="768" y="128" width="11" height="38" fill="#000"/>
<rect x="769" y="129" width="9" height="36" fill="#0f0"/>
<rect x="789" y="152" width="1" height="44" fill="#000"/>
<rect x="784" y="166" width="11" height="12" fill="#000"/>
<rect x="785" y="167" width="9" height="10" fill="#0f0"/>
<rect x="805" y="160" width="1" height="68" fill="#000"/>
<rect x="800" y="177" width="11" height="2" fill="#000"/>
<rect x="821" y="176" width="1" height="101" fill="#000"/>
<rect x="816" y="178" width="11" height="96" fill="#000"/>
<rect x="817" y="179" width="9" height="94" fill="#0f0"/>
<rect x="837" y="249" width="1" height="107" fill="#000"/>
<rect x="832" y="274" width="11" height="17" fill="#000"/>
<rect x="833" y="275" width="9" height="15" fill="#0f0"/>
<rect x="853" y="273" width="1" height="29" fill="#000"/>
<rect x="848" y="290" width="11" height="5" fill="#000"/>
<rect x="849" y="291" width="9" height="3" fill="#0f0"/>
<rect x="869" y="259" width="1" height="70" fill="#000"/>
<rect x="864" y="286" width="11" height="8" fill="#000"/>
<rect x="865" y="287" width="9" height="6" fill="#f00"/>
<rect x="885" y="260" width="1" height="56" fill="#000"/>
<rect x="880" y="285" width="11" height="27" fill="#000"/>
<rect x="881" y="286" width="9" height="25" fill="#0f0"/>
<rect x="901" y="298" width="1" height="45" fill="#000"/>
<rect x="896" y="311" width="11" height="4" fill="#000"/>
<rect x="897" y="312" width="9" height="2" fill="#0f0"/>
<rect x="917" y="243" width="1" height="84" fill="#000"/>
<rect x="912" y="252" width="11" height="63" fill="#000"/>
<rect x="913" y="253" width="9" height="61" fill="#f00"/>
<rect x="933" y="251" width="1" height="40" fill="#000"/>
<rect x="928" y="252" width="11" height="10" fill="#000"/>
<rect x="929" y="253" width="9" height="8" fill="#0f0"/>
<rect x="949" y="251" width="1" height="18" fill="#000"/>
<rect x="944" y="258" width="11" height="4" fill="#000"/>
<rect x="945" y="259" width="9" height="2" fill="#f00"/>
<rect x="965" y="212" width="1" height="63" fill="#000"/>
<rect x="960" y="257" width="11" height="2" fill="#000"/>
<rect x="981" y="222" width="1" height="105" fill="#000"/>
<rect x="976" y="257" width="11" height="28" fill="#000"/>
<rect x="977" y="258" width="9" height="26" fill="#0f0"/>
<rect x="997" y="283" width="1" height="45" fill="#000"/>
<rect x="992" y="284" width="11" height="25" fill="#000"/>
<rect x="993" y="285" width="9" height="23" fill="#0f0"/>
<rect x="1013" y="303" width="1" height="67" fill="#000"/>
<rect x="1008" y="308" width="11" height="2" fill="#000"/>
<rect x="1029" y="236" width="1" height="74" fill="#000"/>
<rect x="1024" y="239" width="11" height="71" fill="#000"/>
<rect x="1025" y="240" width="9" height="69" fill="#f00"/>
<rect x="1045" y="231" width="1" height="30" fill="#000"/>
<rect x="1040" y="239" width="11" height="7" fill="#000"/>
<rect x="1041" y="240" width="9" height="5" fill="#0f0"/>
<rect x="1061" y="206" width="1" height="42" fill="#000"/>
<rect x="1056" y="219" width="11" height="26" fill="#000"/>
<rect x="1057" y="220" width="9" height="24" fill="#f00"/>
<rect x="1077" y="214" width="1" height="152" fill="#000"/>
<rect x="1072" y="219" width="11" height="139" fill="#000"/>
<rect x="1073" y="220" width="9" height="137" fill="#0f0"/>
<rect x="1093" y="254" width="1" height="172" fill="#000"/>
<rect x="1088" y="317" width="11" height="41" fill="#000"/>
<rect x="1089" y="318" width="9" height="39" fill="#f00"/>
<rect x="1109" y="257" width="1" height="87" fill="#000"/>
<rect x="1104" y="265" width="11" height="53" fill="#000"/>
<rect x="1105" y="266" width="9" height="51" fill="#f00"/>
<rect x="1125" y="236" width="1" height="33" fill="#000"/>
<rect x="1120" y="246" width="11" height="19" fill="#000"/>
<rect x="1121" y="247" width="9" height="17" fill="#f00"/>
<rect x="1141" y="231" width="1" height="30" fill="#000"/>
<rect x="1136" y="241" width="11" height="17" fill="#000"/>
<rect x="1137" y="242" width="9" height="15" fill="#f00"/>
<rect x="1157" y="179" width="1" height="74" fill="#000"/>
<rect x="1152" y="192" width="11" height="50" fill="#000"/>
<rect x="1153" y="193" width="9" height="48" fill="#f00"/>
<rect x="1173" y="164" width="1" height="30" fill="#000"/>
<rect x="1168" y="180" width="11" height="12" fill="#000"/>
<rect x="1169" y="181" width="9" height="10" fill="#f00"/>
<rect x="1189" y="113" width="1" height="69" fill="#000"/>
<rect x="1184" y="122" width="11" height="59" fill="#000"/>
<rect x="1185" y="123" width="9" height="57" fill="#f00"/>
<rect x="1205" y="103" width="1" height="55" fill="#000"/>
<rect x="1200" y="110" width="11" height="13" fill="#000"/>
<rect x="1201" y="111" width="9" height="11" fill="#f00"/>
<rect x="1221" y="98" width="1" height="57" fill="#000"/>
<rect x="1216" y="110" width="11" height="36" fill="#000"/>
<rect x="1217" y="111" width="9" height="34" fill="#0f0"/>
<rect x="1237" y="145" width="1" height="27" fill="#000"/>
<rect x="1232" y="145" width="11" height="15" fill="#000"/>
<rect x="1233" y="146" width="9" height="13" fill="#0f0"/>
<rect x="1253" y="155" width="1" height="50" fill="#000"/>
<rect x="1248" y="158" width="11" height="33" fill="#000"/>
<rect x="1249" y="159" width="9" height="31" fill="#0f0"/>
<rect x="1269" y="183" width="1" height="35" fill="#000"/>
<rect x="1264" y="185" width="11" height="7" fill="#000"/>
<rect x="1265" y="186" width="9" height="5" fill="#f00"/>
<rect x="1285" y="158" width="1" height="47" fill="#000"/>
<rect x="1280" y="170" width="11" height="17" fill="#000"/>
<rect x="1281" y="171" width="9" height="15" fill="#f00"/>
<rect x="1301" y="75" width="1" height="184" fill="#000"/>
<rect x="1296" y="107" width="11" height="64" fill="#000"/>
<rect x="1297" y="108" width="9" height="62" fill="#f00"/>
<rect x="1317" y="56" width="1" height="65" fill="#000"/>
<rect x="1312" y="84" width="11" height="24" fill="#000"/>
<rect x="1313" y="85" width="9" height="22" fill="#f00"/>
<rect x="1333" y="78" width="1" height="12" fill="#000"/>
<rect x="1328" y="84" width="11" height="3" fill="#000"/>
<rect x="1329" y="85" width="9" height="1" fill="#0f0"/>
</g>
<rect x="5" y="86" width="1612" height="1" fill="#000"/>
<rect x="5" y="30" width="1612" height="2" fill="#f00"/>
<rect x="5" y="59" width="1612" height="2" fill="#dc143c"/>
<rect x="5" y="101" width="1612" height="2" fill="#ffa500"/>
<rect x="5" y="131" width="1612" height="2" fill="#00f"/>
<rect x="5" y="162" width="1612" height="2" fill="#00f"/>
<rect x="4" y="28" width="6" height="6" fill="#f00"/>
<rect x="6" y="30" width="2" height="2" fill="#fff"/>
<rect x="1611" y="28" width="6" height="6" fill="#f00"/>
<rect x="1613" y="30" width="2" height="2" fill="#fff"/>
<rect x="4" y="57" width="6" height="6" fill="#dc143c"/>
<rect x="6" y="59" width="2" height="2" fill="#fff"/>
<rect x="1611" y="57" width="6" height="6" fill="#dc143c"/>
<rect x="1613" y="59" width="2" height="2" fill="#fff"/>
<rect x="4" y="99" width="6" height="6" fill="#ffa500"/>
<rect x="6" y="101" width="2" height="2" fill="#fff"/>
<rect x="1611" y="99" width="6" height="6" fill="#ffa500"/>
<rect x="1613" y="101" width="2" height="2" fill="#fff"/>
<rect x="4" y="129" width="6" height="6" fill="#00f"/>
<rect x="6" y="131" width="2" height="2" fill="#fff"/>
<rect x="1611" y="129" width="6" height="6" fill="#00f"/>
<rect x="1613" y="131" width="2" height="2" fill="#fff"/>
<rect x="4" y="160" width="6" height="6" fill="#00f"/>
<rect x="6" y="162" width="2" height="2" fill="#fff"/>
<rect x="1611" y="160" width="6" height="6" fill="#00f"/>
<rect x="1613" y="162" width="2" height="2" fill="#fff"/>
<rect x="4" y="26" width="1614" height="1" fill="#000"/>
<rect x="4" y="621" width="1614" height="1" fill="#000"/>
<rect x="4" y="26" width="1" height="596" fill="#000"/>
<rect x="1617" y="26" width="1" height="596" fill="#000"/>
<rect x="4" y="623" width="1614" height="1" fill="#000"/>
<rect x="4" y="723" width="1614" height="1" fill="#000"/>
<rect x="4" y="623" width="1" height="101" fill="#000"/>
<rect x="1617" y="623" width="1" height="101" fill="#000"/>
<rect x="4" y="725" width="1614" height="1" fill="#000"/>
<rect x="4" y="813" width="1614" height="1" fill="#000"/>
<rect x="4" y="725" width="1" height="89" fill="#000"/>
<rect x="1617" y="725" width="1" height="89" fill="#000"/>
<polygon points="1369,27 1378.5,27 1373.7,32.3" fill="#000" shape-rendering="auto"/>
<polygon points="8,33 15.4,33 11.7,37.2" fill="#000" shape-rendering="auto"/>
<g shape-rendering="auto"><line x1="1326.9" y1="235.2" x2="1406.9" y2="134.8" stroke="#e8141e" stroke-width="3.2"/><polygon points="1417.2,121.9 1413.6,140.1 1400.3,129.5" fill="#e8141e"/></g>
<rect x="4" y="687" width="3" height="2" fill="#0f0"/>
<rect x="20" y="688" width="3" height="1" fill="#0f0"/>
<rect x="36" y="689" width="3" height="1" fill="#0f0"/>
<rect x="52" y="684" width="3" height="5" fill="#0f0"/>
<rect x="68" y="683" width="3" height="6" fill="#0f0"/>
<rect x="84" y="685" width="3" height="4" fill="#0f0"/>
<rect x="100" y="686" width="3" height="3" fill="#0f0"/>
<rect x="116" y="686" width="3" height="3" fill="#0f0"/>
<rect x="132" y="686" width="3" height="3" fill="#0f0"/>
<rect x="148" y="686" width="3" height="3" fill="#0f0"/>
<rect x="164" y="685" width="3" height="4" fill="#0f0"/>
<rect x="180" y="685" width="3" height="4" fill="#0f0"/>
<rect x="196" y="686" width="3" height="3" fill="#0f0"/>
<rect x="212" y="688" width="3" height="1" fill="#0f0"/>
<rect x="228" y="686" width="3" height="3" fill="#0f0"/>
<rect x="244" y="686" width="3" height="3" fill="#0f0"/>
<rect x="260" y="681" width="3" height="8" fill="#0f0"/>
<rect x="276" y="679" width="3" height="10" fill="#0f0"/>
<rect x="292" y="679" width="3" height="10" fill="#0f0"/>
<rect x="308" y="679" width="3" height="10" fill="#0f0"/>
<rect x="324" y="678" width="3" height="11" fill="#0f0"/>
<rect x="340" y="680" width="3" height="9" fill="#0f0"/>
<rect x="356" y="682" width="3" height="7" fill="#0f0"/>
<rect x="372" y="682" width="3" height="7" fill="#0f0"/>
<rect x="388" y="683" width="3" height="6" fill="#0f0"/>
<rect x="404" y="683" width="3" height="6" fill="#0f0"/>
<rect x="420" y="686" width="3" height="3" fill="#0f0"/>
<rect x="436" y="689" width="3" height="3" fill="#0f0"/>
<rect x="452" y="689" width="3" height="10" fill="#0f0"/>
<rect x="468" y="689" width="3" height="16" fill="#0f0"/>
<rect x="484" y="689" width="3" height="21" fill="#0f0"/>
<rect x="500" y="689" width="3" height="24" fill="#0f0"/>
<rect x="516" y="689" width="3" height="26" fill="#0f0"/>
<rect x="532" y="689" width="3" height="29" fill="#0f0"/>
<rect x="548" y="689" width="3" height="30" fill="#0f0"/>
<rect x="564" y="689" width="3" height="29" fill="#0f0"/>
<rect x="580" y="689" width="3" height="30" fill="#0f0"/>
<rect x="596" y="689" width="3" height="29" fill="#0f0"/>
<rect x="612" y="689" width="3" height="30" fill="#0f0"/>
<rect x="628" y="689" width="3" height="15" fill="#0f0"/>
<rect x="644" y="689" width="3" height="2" fill="#0f0"/>
<rect x="660" y="675" width="3" height="14" fill="#0f0"/>
<rect x="676" y="664" width="3" height="25" fill="#0f0"/>
<rect x="692" y="656" width="3" height="33" fill="#0f0"/>
<rect x="708" y="649" width="3" height="40" fill="#0f0"/>
<rect x="724" y="639" width="3" height="50" fill="#0f0"/>
<rect x="740" y="633" width="3" height="56" fill="#0f0"/>
<rect x="756" y="629" width="3" height="60" fill="#0f0"/>
<rect x="772" y="629" width="3" height="60" fill="#0f0"/>
<rect x="788" y="630" width="3" height="59" fill="#0f0"/>
<rect x="804" y="631" width="3" height="58" fill="#0f0"/>
<rect x="820" y="639" width="3" height="50" fill="#0f0"/>
<rect x="836" y="646" width="3" height="43" fill="#0f0"/>
<rect x="852" y="652" width="3" height="37" fill="#0f0"/>
<rect x="868" y="657" width="3" height="32" fill="#0f0"/>
<rect x="884" y="663" width="3" height="26" fill="#0f0"/>
<rect x="900" y="668" width="3" height="21" fill="#0f0"/>
<rect x="916" y="668" width="3" height="21" fill="#0f0"/>
<rect x="932" y="669" width="3" height="20" fill="#0f0"/>
<rect x="948" y="670" width="3" height="19" fill="#0f0"/>
<rect x="964" y="671" width="3" height="18" fill="#0f0"/>
<rect x="980" y="674" width="3" height="15" fill="#0f0"/>
<rect x="996" y="677" width="3" height="12" fill="#0f0"/>
<rect x="1012" y="680" width="3" height="9" fill="#0f0"/>
<rect x="1028" y="679" width="3" height="10" fill="#0f0"/>
<rect x="1044" y="678" width="3" height="11" fill="#0f0"/>
<rect x="1060" y="676" width="3" height="13" fill="#0f0"/>
<rect x="1076" y="682" width="3" height="7" fill="#0f0"/>
<rect x="1092" y="685" width="3" height="4" fill="#0f0"/>
<rect x="1108" y="684" width="3" height="5" fill="#0f0"/>
<rect x="1124" y="683" width="3" height="6" fill="#0f0"/>
<rect x="1140" y="681" width="3" height="8" fill="#0f0"/>
<rect x="1156" y="678" width="3" height="11" fill="#0f0"/>
<rect x="1172" y="674" width="3" height="15" fill="#0f0"/>
<rect x="1188" y="668" width="3" height="21" fill="#0f0"/>
<rect x="1204" y="663" width="3" height="26" fill="#0f0"/>
<rect x="1220" y="662" width="3" height="27" fill="#0f0"/>
<rect x="1236" y="661" width="3" height="28" fill="#0f0"/>
<rect x="1252" y="663" width="3" height="26" fill="#0f0"/>
<rect x="1268" y="665" width="3" height="24" fill="#0f0"/>
<rect x="1284" y="667" width="3" height="22" fill="#0f0"/>
<rect x="1300" y="663" width="3" height="26" fill="#0f0"/>
<rect x="1316" y="660" width="3" height="29" fill="#0f0"/>
<rect x="1332" y="657" width="3" height="32" fill="#0f0"/>
<polyline points="5,675 21,676 37,678.5 53,681 69,682.5 85,684.5 101,685 117,685 133,685 149,685 165,684 181,684 197,685 213,685 229,685 245,685 261,685 277,684 293,683 309,683 325,683 341,682 357,681.5 373,681 389,681 405,681 421,681 437,683 453,685 469,687 485,691.6 501,694 517,698.5 533,701.5 549,705.8 565,709.3 581,712.6 597,714.6 613,715 629,714.9 645,712.3 661,708.3 677,702.7 693,695.7 709,688 725,679.3 741,670.5 757,660.4 773,652 789,645 805,640.7 821,637 837,636.4 853,636 869,639 885,642.7 901,646.5 917,650.8 933,655 949,659 965,663 981,666 997,669 1013,671.7 1029,673.5 1045,674.5 1061,675.5 1077,676.5 1093,678.8 1109,679.8 1125,680.8 1141,680.8 1157,680.8 1173,680.5 1189,679.5 1205,678.8 1221,675 1237,673 1253,671 1269,669.4 1285,667.7 1301,666 1317,663.6 1333,663" fill="none" stroke="#f00" stroke-width="2" shape-rendering="crispEdges"/>
<line x1="6" y1="744.5" x2="1617" y2="744.5" stroke="#000" stroke-width="1" stroke-dasharray="3 3"/>
<line x1="6" y1="769.5" x2="1617" y2="769.5" stroke="#000" stroke-width="1" stroke-dasharray="3 3"/>
<line x1="6" y1="800.5" x2="1617" y2="800.5" stroke="#000" stroke-width="1" stroke-dasharray="3 3"/>
<polyline points="5,775.4 21,773.2 37,768.4 53,763 69,765 85,768.9 101,769 117,768.4 133,768 149,768.4 165,769.4 181,769.6 197,769 213,772.7 229,765 245,763.3 261,762 277,762 293,766 309,766.4 325,764 341,769 357,769 373,769.4 389,769.6 405,769 421,772.7 437,779.7 453,784.8 469,784.8 485,784.8 501,784.5 517,784 533,785.8 549,782.5 565,779.7 581,781.7 597,781.7 613,782.8 629,753.7 645,753.7 661,750 677,751 693,752.7 709,751 725,749 741,751.7 757,751.7 773,755.8 789,756.8 805,756.8 821,767.6 837,768.4 853,769 869,769 885,771 901,771 917,766 933,766 949,766 965,764.6 981,769 997,772 1013,772 1029,763.8 1045,763.8 1061,762.8 1077,776 1093,772.7 1109,766.9 1125,765.9 1141,765.4 1157,761.3 1173,760.3 1189,756.3 1205,755.8 1221,760.3 1237,762.6 1253,765 1269,765 1285,763.8 1301,758 1317,756 1333,755.8" fill="none" stroke="#1e90ff" stroke-width="2" shape-rendering="crispEdges"/>
<rect x="1618" y="90" width="2" height="1" fill="#000"/>
<rect x="1618" y="123" width="2" height="1" fill="#000"/>
<rect x="1618" y="156" width="2" height="1" fill="#000"/>
<rect x="1618" y="189" width="2" height="1" fill="#000"/>
<rect x="1618" y="222" width="2" height="1" fill="#000"/>
<rect x="1618" y="255" width="2" height="1" fill="#000"/>
<rect x="1618" y="288" width="2" height="1" fill="#000"/>
<rect x="1618" y="321" width="2" height="1" fill="#000"/>
<rect x="1618" y="354" width="2" height="1" fill="#000"/>
<rect x="1618" y="387" width="2" height="1" fill="#000"/>
<rect x="1618" y="420" width="2" height="1" fill="#000"/>
<rect x="1618" y="453" width="2" height="1" fill="#000"/>
<rect x="1618" y="486" width="2" height="1" fill="#000"/>
<rect x="1618" y="519" width="2" height="1" fill="#000"/>
<rect x="1618" y="552" width="2" height="1" fill="#000"/>
<rect x="1618" y="585" width="2" height="1" fill="#000"/>
<rect x="1618" y="618" width="2" height="1" fill="#000"/>
<rect x="1618" y="689" width="2" height="1" fill="#000"/>
<rect x="1618" y="624" width="2" height="1" fill="#000"/>
<rect x="1618" y="722" width="2" height="1" fill="#000"/>
<rect x="1618" y="726" width="2" height="1" fill="#000"/>
<rect x="1618" y="812" width="2" height="1" fill="#000"/>
<rect x="5" y="814" width="1" height="3" fill="#000"/>
<rect x="69" y="814" width="1" height="3" fill="#000"/>
<rect x="133" y="814" width="1" height="3" fill="#000"/>
<rect x="197" y="814" width="1" height="3" fill="#000"/>
<rect x="261" y="814" width="1" height="3" fill="#000"/>
<rect x="325" y="814" width="1" height="3" fill="#000"/>
<rect x="389" y="814" width="1" height="3" fill="#000"/>
<rect x="453" y="814" width="1" height="3" fill="#000"/>
<rect x="517" y="814" width="1" height="3" fill="#000"/>
<rect x="581" y="814" width="1" height="3" fill="#000"/>
<rect x="645" y="814" width="1" height="3" fill="#000"/>
<rect x="709" y="814" width="1" height="3" fill="#000"/>
<rect x="773" y="814" width="1" height="3" fill="#000"/>
<rect x="837" y="814" width="1" height="3" fill="#000"/>
<rect x="901" y="814" width="1" height="3" fill="#000"/>
<rect x="965" y="814" width="1" height="3" fill="#000"/>
<rect x="1029" y="814" width="1" height="3" fill="#000"/>
<rect x="1093" y="814" width="1" height="3" fill="#000"/>
<rect x="1157" y="814" width="1" height="3" fill="#000"/>
<rect x="1221" y="814" width="1" height="3" fill="#000"/>
<rect x="1285" y="814" width="1" height="3" fill="#000"/>
</svg>
<div class="t pl" style="top:87px">132.985</div>
<div class="t pl" style="top:120px">132.670</div>
<div class="t pl" style="top:153px">132.355</div>
<div class="t pl" style="top:186px">132.040</div>
<div class="t pl" style="top:219px">131.730</div>
<div class="t pl" style="top:252px">131.415</div>
<div class="t pl" style="top:285px">131.100</div>
<div class="t pl" style="top:318px">130.785</div>
<div class="t pl" style="top:351px">130.470</div>
<div class="t pl" style="top:384px">130.160</div>
<div class="t pl" style="top:417px">129.845</div>
<div class="t pl" style="top:450px">129.530</div>
<div class="t pl" style="top:483px">129.215</div>
<div class="t pl" style="top:516px">128.905</div>
<div class="t pl" style="top:549px">128.590</div>
<div class="t pl" style="top:582px">128.275</div>
<div class="t pl" style="top:615px">127.960</div>
<div class="bx" style="top:25px;background:#f00"><span>133.542</span></div>
<div class="bx" style="top:54px;background:#dc143c"><span>133.267</span></div>
<div class="bx" style="top:81px;background:#000"><span>133.026</span></div>
<div class="bx" style="top:96px;background:#ffa500"><span>132.868</span></div>
<div class="bx" style="top:126px;background:#00f"><span>132.583</span></div>
<div class="bx" style="top:157px;background:#00f"><span>132.289</span></div>
<div class="t" style="left:1621px;top:627px">0.8719</div>
<div class="t" style="left:1621px;top:686px">0.00</div>
<div class="t" style="left:1621px;top:713px">-0.4503</div>
<div class="t" style="left:1620.5px;top:729px">100</div>
<div class="t" style="left:1620px;top:741px">80</div>
<div class="t" style="left:1620px;top:766px">50</div>
<div class="t" style="left:1619.6px;top:797px">15</div>
<div class="t" style="left:1621px;top:803px">0</div>
<div class="t" style="left:4px;top:819px;transform:scaleX(0.91)">26 Jan 2023</div>
<div class="t" style="left:68px;top:819px;transform:scaleX(0.912)">26 Jan 16:00</div>
<div class="t" style="left:132px;top:819px;transform:scaleX(0.912)">27 Jan 08:00</div>
<div class="t" style="left:196px;top:819px;transform:scaleX(0.912)">30 Jan 00:00</div>
<div class="t" style="left:260px;top:819px;transform:scaleX(0.912)">30 Jan 16:00</div>
<div class="t" style="left:324px;top:819px;transform:scaleX(0.912)">31 Jan 08:00</div>
<div class="t" style="left:388px;top:819px;transform:scaleX(0.925)">1 Feb 00:00</div>
<div class="t" style="left:452px;top:819px;transform:scaleX(0.925)">1 Feb 16:00</div>
<div class="t" style="left:516px;top:819px;transform:scaleX(0.925)">2 Feb 08:00</div>
<div class="t" style="left:580px;top:819px;transform:scaleX(0.925)">3 Feb 00:00</div>
<div class="t" style="left:644px;top:819px;transform:scaleX(0.925)">3 Feb 16:00</div>
<div class="t" style="left:708px;top:819px;transform:scaleX(0.925)">6 Feb 08:00</div>
<div class="t" style="left:772px;top:819px;transform:scaleX(0.925)">7 Feb 00:00</div>
<div class="t" style="left:836px;top:819px;transform:scaleX(0.925)">7 Feb 16:00</div>
<div class="t" style="left:900px;top:819px;transform:scaleX(0.925)">8 Feb 08:00</div>
<div class="t" style="left:964px;top:819px;transform:scaleX(0.925)">9 Feb 00:00</div>
<div class="t" style="left:1028px;top:819px;transform:scaleX(0.925)">9 Feb 16:00</div>
<div class="t" style="left:1092px;top:819px;transform:scaleX(0.917)">10 Feb 08:00</div>
<div class="t" style="left:1156px;top:819px;transform:scaleX(0.917)">13 Feb 00:00</div>
<div class="t" style="left:1220px;top:819px;transform:scaleX(0.917)">13 Feb 16:00</div>
<div class="t" style="left:1284px;top:819px;transform:scaleX(0.917)">14 Feb 08:00</div>
<div class="t" style="left:9px;top:629px;transform:scaleX(0.95)">MACD(12,26,9) 0.4269 0.3627</div>
<div class="t" style="left:9px;top:731px;transform:scaleX(0.937)">RSI(14) 65.1399</div>
</body></html>
